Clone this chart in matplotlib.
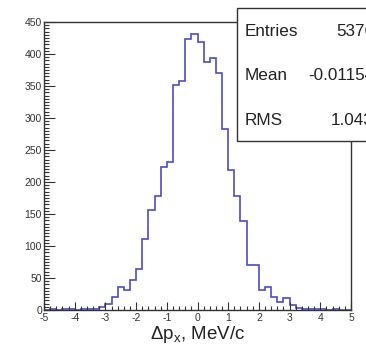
import numpy as np
import matplotlib
matplotlib.use("Agg")
import matplotlib.pyplot as plt
from matplotlib.patches import Rectangle
from matplotlib.ticker import MultipleLocator

plt.rcParams['font.family'] = ['Liberation Sans', 'DejaVu Sans']
plt.rcParams['mathtext.fontset'] = 'custom'
plt.rcParams['mathtext.rm'] = 'Liberation Sans'
plt.rcParams['mathtext.it'] = 'Liberation Sans'

# Histogram of momentum residuals, 50 bins of 0.2 MeV/c from -5 to 5
bin_edges = np.round(np.linspace(-5.0, 5.0, 51), 2)
counts = [0, 1, 0, 1, 1, 0, 1, 1, 2, 5,
          9, 21, 36, 31, 47, 64, 111, 157, 178, 224,
          231, 351, 358, 424, 432, 418, 388, 394, 370, 283,
          218, 178, 139, 70, 70, 31, 36, 20, 13, 18,
          8, 3, 1, 1, 2, 1, 0, 1, 0, 0]

stat_names = ["Entries", "Mean", "RMS"]
stat_values = ["5376", "-0.01154", "1.043"]

x_label = r"$\Delta$p$_{x}$, MeV/c"

W, H = 366, 347
fig = plt.figure(figsize=(W / 100, H / 100), dpi=100)
ax = fig.add_axes([44 / W, 1 - 310 / H, (351 - 44) / W, (310 - 22) / H])

ax.stairs(counts, bin_edges, color='#4b4bc8', linewidth=1.2)

ax.set_xlim(-5, 5)
ax.set_ylim(0, 450)

ax.xaxis.set_major_locator(MultipleLocator(1))
ax.xaxis.set_minor_locator(MultipleLocator(0.2))
ax.yaxis.set_major_locator(MultipleLocator(50))
ax.yaxis.set_minor_locator(MultipleLocator(5))

ax.tick_params(which='both', direction='in', top=False, right=False,
               colors='#333333', labelcolor='#333333', width=0.8)
ax.tick_params(axis='x', which='major', length=6, labelsize=7.5, pad=2.5)
ax.tick_params(axis='x', which='minor', length=3)
ax.tick_params(axis='y', which='major', length=8, labelsize=7.5, pad=1.5)
ax.tick_params(axis='y', which='minor', length=3.5)

for s in ax.spines.values():
    s.set_color('#333333')
    s.set_linewidth(1.0)

ax.set_xticklabels([f"{int(v)}" for v in ax.get_xticks()])
ax.set_xlabel(x_label, fontsize=13.5, color='#222222', labelpad=0.5)

# Statistics box in the upper right corner
box_left, box_top, box_bottom = 237 / W, 1 - 8 / H, 1 - 141 / H
fig.patches.append(Rectangle((box_left, box_bottom), 1.2 - box_left,
                             box_top - box_bottom, transform=fig.transFigure,
                             facecolor='white', edgecolor='#333333',
                             linewidth=1.0, zorder=10, clip_on=False))
rows_y = [31, 76, 120]
for name, val, yp in zip(stat_names, stat_values, rows_y):
    fig.text(245 / W, 1 - yp / H, name, fontsize=12.3, color='#222222',
             va='center', ha='left', zorder=11)
    fig.text(374 / W, 1 - yp / H, val, fontsize=12.3, color='#222222',
             va='center', ha='right', zorder=11)

fig.savefig("out.png", dpi=100)
